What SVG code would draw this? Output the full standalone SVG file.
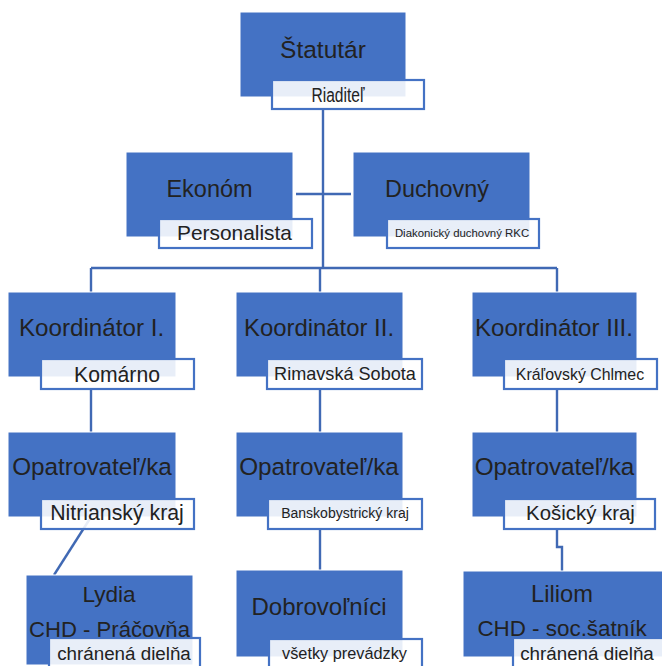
<svg xmlns="http://www.w3.org/2000/svg" width="662" height="666" viewBox="0 0 662 666">
<style>
.box{fill:#4472C4;stroke:#ffffff;stroke-width:1}
.sub{fill:#ffffff;fill-opacity:0.88;stroke:#4472C4;stroke-width:2.2}
.t{font-family:"Liberation Sans",Arial,sans-serif;fill:#222222;text-anchor:middle}
.c{fill:none;stroke:#4069B4;stroke-width:2.4}
</style>
<rect width="662" height="666" fill="#ffffff"/>
<g id="connectors">
<path class="c" d="M323 109V268M91 268H557M91 268V292M320 268V292M557 268V292"/>
<path class="c" d="M296 194H351"/>
<path class="c" d="M91 389V432M320 389V432M557 389V432"/>
<path class="c" d="M91 517L54 575"/>
<path class="c" d="M320 529V570"/>
<path class="c" d="M557 529V547H562V571"/>
</g>
<g id="statutar">
<rect class="box" x="240" y="12" width="166" height="85"/>
<text class="t" x="323" y="58" font-size="24.5">Štatutár</text>
<rect class="sub" x="272" y="80" width="152" height="29"/>
<text class="t" x="338" y="102" font-size="20" textLength="53" lengthAdjust="spacingAndGlyphs">Riaditeľ</text>
</g>
<g id="ekonom">
<rect class="box" x="126" y="152" width="167" height="85"/>
<text class="t" x="209.5" y="197" font-size="23.5">Ekonóm</text>
<rect class="sub" x="159" y="219" width="153" height="29"/>
<text class="t" x="234.5" y="240" font-size="20.9">Personalista</text>
</g>
<g id="duchovny">
<rect class="box" x="353" y="152" width="177" height="85"/>
<text class="t" x="437" y="197" font-size="23.4">Duchovný</text>
<rect class="sub" x="387" y="219" width="152" height="29"/>
<text class="t" x="462" y="237" font-size="11.4">Diakonický duchovný RKC</text>
</g>
<g id="koordinator1">
<rect class="box" x="8" y="292" width="168" height="85"/>
<text class="t" x="91.5" y="336" font-size="24.2">Koordinátor I.</text>
<rect class="sub" x="41" y="359" width="153" height="30"/>
<text class="t" x="117" y="382" font-size="21.2">Komárno</text>
</g>
<g id="koordinator2">
<rect class="box" x="236" y="292" width="167" height="85"/>
<text class="t" x="319" y="336" font-size="23.9">Koordinátor II.</text>
<rect class="sub" x="267" y="359" width="155" height="30"/>
<text class="t" x="345" y="380" font-size="18.1">Rimavská Sobota</text>
</g>
<g id="koordinator3">
<rect class="box" x="472" y="292" width="165" height="85"/>
<text class="t" x="554" y="336" font-size="24.1">Koordinátor III.</text>
<rect class="sub" x="504" y="359" width="153" height="30"/>
<text class="t" x="580" y="380" font-size="15.9">Kráľovský Chlmec</text>
</g>
<g id="opatrovatel1">
<rect class="box" x="8" y="432" width="168" height="85"/>
<text class="t" x="92" y="475" font-size="24.3">Opatrovateľ/ka</text>
<rect class="sub" x="41" y="499" width="153" height="30"/>
<text class="t" x="117" y="520" font-size="21.3">Nitrianský kraj</text>
</g>
<g id="opatrovatel2">
<rect class="box" x="236" y="432" width="167" height="85"/>
<text class="t" x="319" y="475" font-size="24.3">Opatrovateľ/ka</text>
<rect class="sub" x="268" y="499" width="154" height="30"/>
<text class="t" x="345" y="518" font-size="14">Banskobystrický kraj</text>
</g>
<g id="opatrovatel3">
<rect class="box" x="472" y="432" width="165" height="85"/>
<text class="t" x="554.5" y="475" font-size="24.3">Opatrovateľ/ka</text>
<rect class="sub" x="504" y="499" width="151" height="30"/>
<text class="t" x="580.5" y="520" font-size="20.4">Košický kraj</text>
</g>
<g id="lydia">
<rect class="box" x="26" y="575" width="167" height="90"/>
<text class="t" x="109" y="602" font-size="22.6">Lydia</text>
<text class="t" x="109.5" y="637" font-size="22.1">CHD - Práčovňa</text>
<rect class="sub" x="49" y="638" width="151" height="40"/>
<text class="t" x="124" y="660" font-size="18.8">chránená dielňa</text>
</g>
<g id="dobrovolnici">
<rect class="box" x="236" y="570" width="167" height="87"/>
<text class="t" x="319" y="615" font-size="24">Dobrovoľníci</text>
<rect class="sub" x="269" y="639" width="153" height="40"/>
<text class="t" x="344.5" y="659" font-size="16.3">všetky prevádzky</text>
</g>
<g id="liliom">
<rect class="box" x="463" y="571" width="205" height="86"/>
<text class="t" x="562" y="602" font-size="23.7">Liliom</text>
<text class="t" x="562" y="636" font-size="22.4">CHD - soc.šatník</text>
<rect class="sub" x="513" y="638" width="160" height="40"/>
<text class="t" x="587" y="660" font-size="18.8">chránená dielňa</text>
</g>
</svg>
